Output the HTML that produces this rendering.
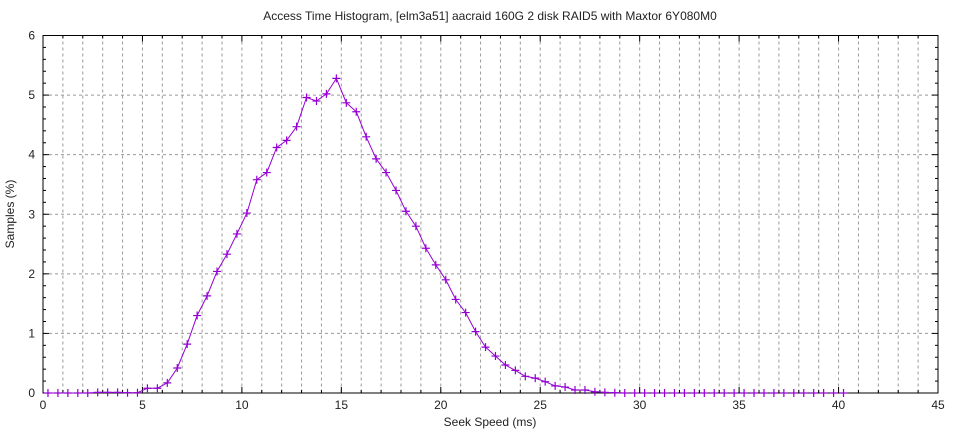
<!DOCTYPE html>
<html><head><meta charset="utf-8"><style>
html,body{margin:0;padding:0;background:#fff;width:960px;height:432px;overflow:hidden}
svg text{font-family:"Liberation Sans","DejaVu Sans",sans-serif;fill:#222}
</style></head><body>
<svg id="s" width="960" height="432" xmlns="http://www.w3.org/2000/svg"></svg>
<script>
const L=43,R=938,T=35.5,B=393;
const X=v=>L+(R-L)*v/45, Y=v=>B-(B-T)*v/6;
let h='<rect width="960" height="432" fill="#fff"/>';
for(let i=1;i<45;i++){h+=`<line x1="${X(i)}" y1="${T}" x2="${X(i)}" y2="${B}" stroke="#999" stroke-dasharray="3,3" stroke-width="1"/>`;}
for(let j=1;j<6;j++){h+=`<line x1="${L}" y1="${Y(j)}" x2="${R}" y2="${Y(j)}" stroke="#999" stroke-dasharray="3,3" stroke-width="1"/>`;}
for(let i=0;i<=45;i++){let len=i%5==0?6:3;h+=`<line x1="${X(i)}" y1="${B}" x2="${X(i)}" y2="${B-len}" stroke="#000"/><line x1="${X(i)}" y1="${T}" x2="${X(i)}" y2="${T+len}" stroke="#000"/>`;
 if(i%5==0)h+=`<text x="${X(i)}" y="409" font-size="12" text-anchor="middle">${i}</text>`;}
for(let j=0;j<=30;j++){let v=j/5,len=j%5==0?6:3;h+=`<line x1="${L}" y1="${Y(v)}" x2="${L+len}" y2="${Y(v)}" stroke="#000"/><line x1="${R}" y1="${Y(v)}" x2="${R-len}" y2="${Y(v)}" stroke="#000"/>`;
 if(j%5==0)h+=`<text x="35" y="${Y(v)+4}" font-size="12" text-anchor="end">${v}</text>`;}
h+=`<rect x="${L}" y="${T}" width="${R-L}" height="${B-T}" fill="none" stroke="#000" stroke-width="1"/>`;
const d=[0,0,0,0,0,0.01,0.01,0.01,0.005,0.005,0.08,0.08,0.17,0.42,0.82,1.3,1.63,2.04,2.33,2.67,3.02,3.58,3.7,4.12,4.24,4.47,4.96,4.9,5.02,5.28,4.87,4.72,4.3,3.93,3.7,3.4,3.05,2.8,2.43,2.15,1.9,1.57,1.35,1.03,0.77,0.62,0.47,0.38,0.28,0.25,0.19,0.12,0.1,0.05,0.05,0.02,0.01,0.005,0];
let pts=d.map((v,k)=>`${X(0.25+0.5*k).toFixed(1)},${Y(v).toFixed(1)}`).join(' ');
h+=`<polyline points="${pts}" fill="none" stroke="#9400d3" stroke-width="1"/>`;
let m='';
for(let k=0;k<81;k++){let v=k<d.length?d[k]:0,x=X(0.25+0.5*k),y=Y(v);m+=`M${x-4} ${y}h8M${x} ${y-4}v8`;}
h+=`<path d="${m}" stroke="#9400d3" stroke-width="1.2" fill="none"/>`;
h+=`<text x="490" y="20" font-size="12" text-anchor="middle">Access Time Histogram, [elm3a51] aacraid 160G 2 disk RAID5 with Maxtor 6Y080M0</text>`;
h+=`<text x="490" y="426" font-size="12" text-anchor="middle">Seek Speed (ms)</text>`;
h+=`<text transform="translate(14,214) rotate(-90)" font-size="12" text-anchor="middle">Samples (%)</text>`;
document.getElementById('s').innerHTML=h;
</script>
</body></html>
